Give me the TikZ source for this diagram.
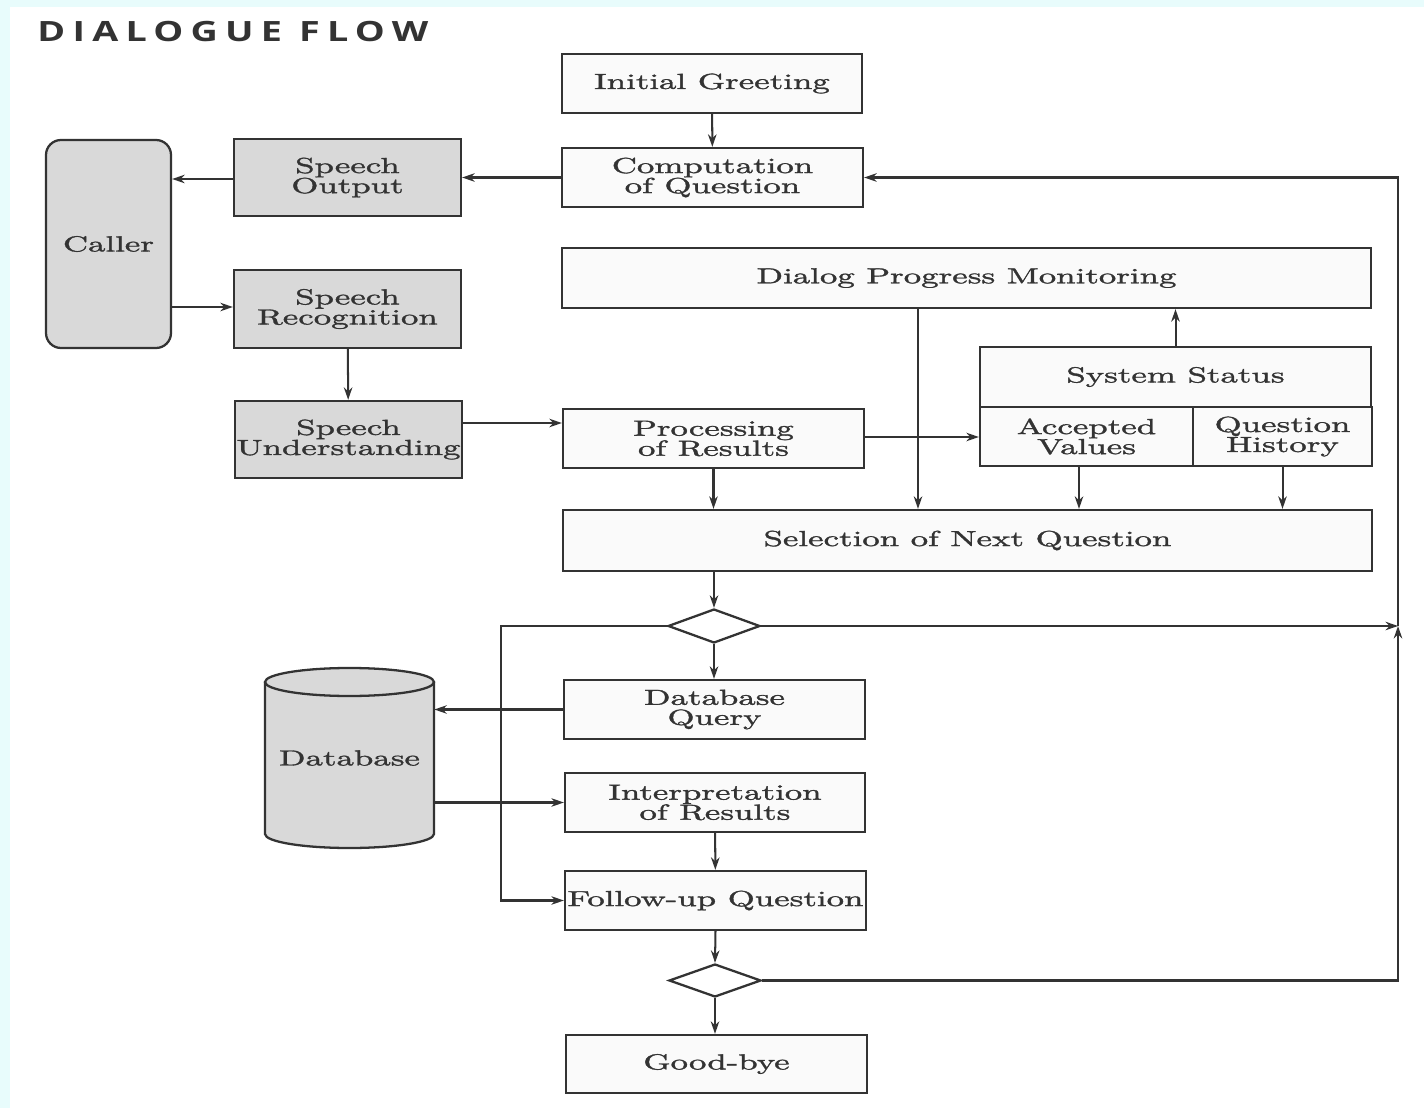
\documentclass[tikz,border=0pt]{standalone}
\usepackage{fontspec}
\usetikzlibrary{arrows.meta,shapes.geometric,calc}

\newfontfamily\boxfont{lmroman10-regular}[Extension=.otf,FakeStretch=1.6,FakeBold=1.5]
\newfontfamily\titlefont{Open Sans}[FakeStretch=1.35,LetterSpace=26]

\definecolor{ink}{HTML}{333333}
\definecolor{boxgray}{HTML}{D9D9D9}
\definecolor{paper}{HTML}{FAFAFA}
\definecolor{frame}{HTML}{E8FCFC}

\begin{document}
\begin{tikzpicture}[x=0.02cm,y=-0.02cm,
  sz/.style 2 args={minimum width=#1*0.02cm,minimum height=#2*0.02cm},
  box/.style={draw=ink,line width=1.3pt,fill=paper,inner sep=0pt,align=center,
    text=ink,font=\boxfont\fontsize{12.4}{11.4}\selectfont},
  graybox/.style={box,fill=boxgray},
  decision/.style={diamond,draw=ink,line width=1.3pt,fill=white,inner sep=0pt},
  conn/.style={draw=ink,line width=1.15pt,-{Stealth[length=0.25cm,width=0.17cm]}}]

% page and margins
\useasboundingbox (0,0) rectangle (1424,1108);
\fill[frame] (0,0) rectangle (1424,1108);
\fill[white] (10,7) rectangle (1424,1108);

% heading
\node[anchor=base west,inner sep=0pt,text=ink,
  font=\titlefont\bfseries\fontsize{15.9}{18}\selectfont] (title) at (37,42) {DIALOGUE FLOW};

% caller side
\node[graybox,rounded corners=0.3cm,sz={125}{208}] (caller) at (108.5,244) {Caller};
\node[graybox,sz={227}{77}] (sout) at (347.5,177.5) {Speech\\Output};
\node[graybox,sz={227}{78}] (srec) at (347.5,309) {Speech\\Recognition};
\node[graybox,sz={227}{77}] (sund) at (348.5,439.5) {Speech\\Understanding};

% main column
\node[box,sz={300}{59}] (greet) at (712,83.5) {Initial Greeting};
\node[box,sz={301}{59}] (comp) at (712.5,177.5) {Computation\\of Question};
\node[box,sz={809}{60}] (dpm) at (966.5,278) {Dialog Progress Monitoring};
\node[box,sz={391}{60}] (sstat) at (1175.5,377) {System Status};
\node[box,sz={213}{59}] (accv) at (1086.5,436.5) {Accepted\\Values};
\node[box,sz={179}{59}] (qhist) at (1282.5,436.5) {Question\\History};
\node[box,sz={301}{59}] (proc) at (713.5,438.5) {Processing\\of Results};
\node[box,sz={809}{61}] (sel) at (967.5,540.5) {Selection of Next Question};
\node[decision,sz={92}{34}] (d1) at (714,626) {};
\node[box,sz={301}{59}] (dbq) at (714.5,709.5) {Database\\Query};
\node[box,sz={300}{59}] (interp) at (715,802.5) {Interpretation\\of Results};
\node[box,sz={301}{59}] (follow) at (715.5,900.5) {Follow-up Question};
\node[decision,sz={92}{33}] (d2) at (715,980.5) {};
\node[box,sz={301}{58}] (bye) at (716.5,1064) {Good-bye};

% database cylinder
\fill[boxgray] (265,682) -- (265,834) arc[start angle=180,end angle=360,x radius=84.5,y radius=-14]
  -- (434,682) arc[start angle=0,end angle=180,x radius=84.5,y radius=-14] -- cycle;
\draw[ink,line width=1.3pt] (349.5,682) ellipse[x radius=84.5,y radius=14];
\draw[ink,line width=1.3pt] (265,682) -- (265,834)
  arc[start angle=180,end angle=360,x radius=84.5,y radius=-14] -- (434,682);
\node[inner sep=0pt,sz={169}{152},text=ink,font=\boxfont\fontsize{12.4}{11.4}\selectfont]
  (db) at (349.5,758) {Database};

% helper coordinates for routed lines
\coordinate (ya) at (0,423);
\coordinate (xa) at (918,0);
\coordinate (xb) at (1079,0);
\coordinate (xL) at (501,0);
\coordinate (xR) at (1398,0);
\coordinate (jn) at (d1.east -| xR);

% connectors
\draw[conn] (greet) -- (comp);
\draw[conn] (comp) -- (sout);
\draw[conn] (sout.west |- 0,179) -- (caller.east |- 0,179);
\draw[conn] (caller.east |- 0,307) -- (srec.west |- 0,307);
\draw[conn] (srec) -- (sund);
\draw[conn] (sund.east |- ya) -- (proc.west |- ya);
\draw[conn] (proc.east |- 0,437) -- (accv.west |- 0,437);
\draw[conn] (dpm.south -| xa) -- (sel.north -| xa);
\draw[conn] (sstat.north) -- (sstat.north |- dpm.south);
\draw[conn] (accv.south -| xb) -- (sel.north -| xb);
\draw[conn] (qhist.south) -- (qhist.south |- sel.north);
\draw[conn] (proc.south) -- (proc.south |- sel.north);
\draw[conn] (sel.south -| d1.north) -- (d1.north);
\draw[conn] (d1.south) -- (dbq.north -| d1.south);
\draw[conn] (dbq.west) -- (db.east |- dbq.west);
\draw[conn] (db.east |- interp.west) -- (interp.west);
\draw[conn] (interp) -- (follow);
\draw[conn] (follow.south) -- (d2.north);
\draw[conn] (d2.south) -- (bye.north -| d2.south);
\draw[conn] (d1.west) -- (d1.west -| xL) |- (follow.west);
\draw[conn] (d1.east) -- (jn);
\draw[conn] (d2.east) -- (d2.east -| xR) -- (jn);
\draw[conn] (jn) |- (comp.east);

\end{tikzpicture}
\end{document}
